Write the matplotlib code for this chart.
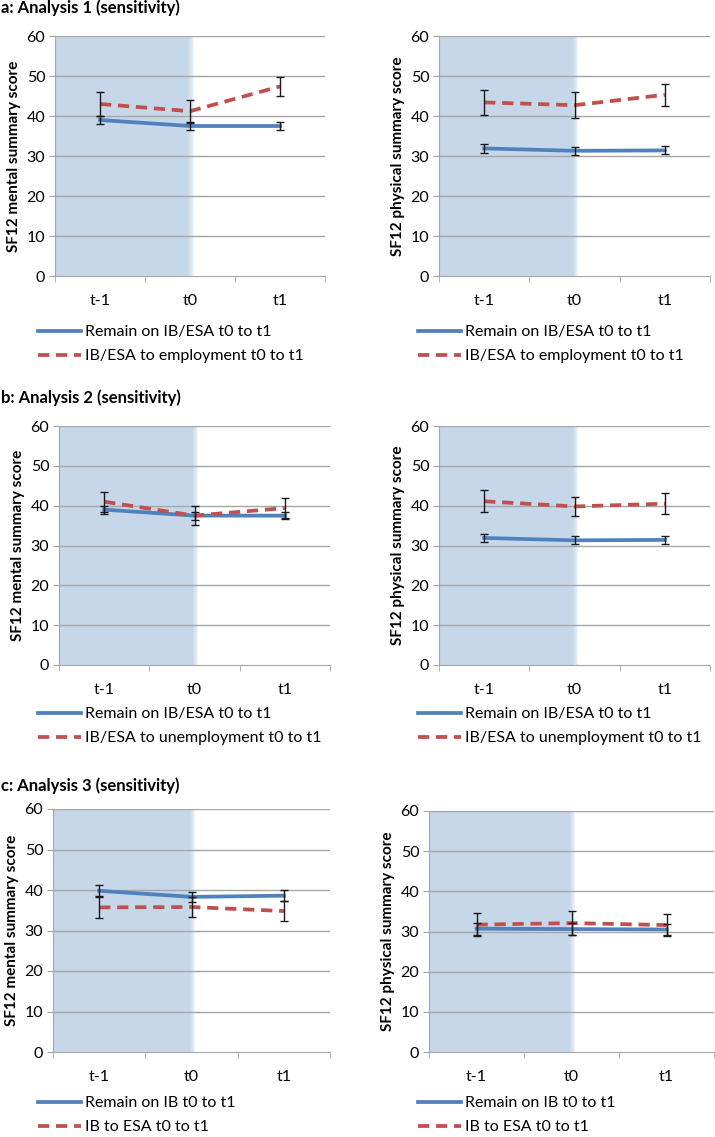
import matplotlib.pyplot as plt

# --- data -------------------------------------------------------------
timepoints = ["t-1", "t0", "t1"]

titles = ["a: Analysis 1 (sensitivity)", "b: Analysis 2 (sensitivity)", "c: Analysis 3 (sensitivity)"]
ylabels = ["SF12 mental summary score", "SF12 physical summary score"]

legend_remain = ["Remain on IB/ESA t0 to t1", "Remain on IB/ESA t0 to t1", "Remain on IB t0 to t1"]
legend_change = ["IB/ESA to employment t0 to t1", "IB/ESA to unemployment t0 to t1", "IB to ESA t0 to t1"]

# Analysis 1
a_mental_remain = [39.0, 37.5, 37.5]
a_mental_remain_err = [1.0, 1.0, 1.0]
a_mental_change = [43.0, 41.2, 47.4]
a_mental_change_err = [3.1, 2.9, 2.3]
a_phys_remain = [31.9, 31.3, 31.4]
a_phys_remain_err = [1.1, 1.0, 1.0]
a_phys_change = [43.4, 42.7, 45.3]
a_phys_change_err = [3.1, 3.2, 2.7]

# Analysis 2
b_mental_remain = [39.0, 37.5, 37.5]
b_mental_remain_err = [1.0, 1.0, 0.9]
b_mental_change = [41.0, 37.5, 39.4]
b_mental_change_err = [2.5, 2.4, 2.5]
b_phys_remain = [31.9, 31.3, 31.4]
b_phys_remain_err = [1.1, 1.0, 1.0]
b_phys_change = [41.1, 39.8, 40.5]
b_phys_change_err = [2.8, 2.5, 2.6]

# Analysis 3
c_mental_remain = [39.8, 38.3, 38.6]
c_mental_remain_err = [1.4, 1.3, 1.3]
c_mental_change = [35.7, 35.8, 34.8]
c_mental_change_err = [2.5, 2.4, 2.4]
c_phys_remain = [30.7, 30.6, 30.5]
c_phys_remain_err = [1.5, 1.4, 1.4]
c_phys_change = [31.7, 32.1, 31.6]
c_phys_change_err = [2.9, 2.9, 2.7]

panels = [
    [(a_mental_remain, a_mental_remain_err, a_mental_change, a_mental_change_err),
     (a_phys_remain, a_phys_remain_err, a_phys_change, a_phys_change_err)],
    [(b_mental_remain, b_mental_remain_err, b_mental_change, b_mental_change_err),
     (b_phys_remain, b_phys_remain_err, b_phys_change, b_phys_change_err)],
    [(c_mental_remain, c_mental_remain_err, c_mental_change, c_mental_change_err),
     (c_phys_remain, c_phys_remain_err, c_phys_change, c_phys_change_err)],
]

# --- layout (pixels: left, top, right, bottom) ----------------------------
W, H = 715, 1137
boxes = [
    [(55, 36, 325, 276), (439, 36, 710, 276)],
    [(59, 426, 330, 665), (439, 426, 710, 665)],
    [(53, 809, 330, 1052), (429, 811, 714, 1052)],
]
title_y = [8, 398, 786]
legend_top = [325, 707, 1096]
legend_x = [38, 418]

plt.rcParams['font.family'] = ['Lato', 'DejaVu Sans']

blue = "#4f81bd"
red = "#c0504d"
shade = "#c6d7ea"
grid = "#a6a6a6"

fig = plt.figure(figsize=(W / 100, H / 100), dpi=100)

for r in range(3):
    fig.text(1 / W, 1 - title_y[r] / H, titles[r], fontsize=12, fontweight='bold',
             ha='left', va='center')
    for c in range(2):
        l, t, rr, b = boxes[r][c]
        ax = fig.add_axes([l / W, 1 - b / H, (rr - l) / W, (b - t) / H])
        remain, remain_err, change, change_err = panels[r][c]
        x = list(range(len(timepoints)))

        # shaded "before" region with soft right edge (overlapping strips, no gaps)
        ax.axvspan(-0.5, 0.98, color=shade, lw=0, zorder=0)
        steps = 6
        for i in range(steps):
            ax.axvspan(0.97, 0.98 + (i + 1) * 0.01, color=shade,
                       alpha=0.25, lw=0, zorder=0)

        for yv in range(10, 61, 10):
            ax.axhline(yv, color=grid, lw=1, zorder=1)

        ax.plot(x, remain, color=blue, lw=2.7, zorder=3, label=legend_remain[r])
        ax.plot(x, change, color=red, lw=2.7, ls=(0, (3.0, 1.8)), zorder=3,
                label=legend_change[r])
        ax.errorbar(x, remain, yerr=remain_err, fmt='none', ecolor='#1a1a1a',
                    elinewidth=1, capsize=3, capthick=1, zorder=4)
        ax.errorbar(x, change, yerr=change_err, fmt='none', ecolor='#1a1a1a',
                    elinewidth=1, capsize=3, capthick=1, zorder=4)

        ax.set_xlim(-0.5, 2.5)
        ax.set_ylim(0, 60)
        ax.set_yticks(range(0, 61, 10))
        ax.set_xticks(x)
        ax.set_xticklabels(timepoints)
        ax.set_xticks([-0.5, 0.5, 1.5, 2.5], minor=True)
        ax.tick_params(axis='x', which='major', length=0, pad=13, labelsize=11.5)
        ax.tick_params(axis='x', which='minor', length=4, color=grid, direction='out')
        ax.tick_params(axis='y', length=4, color=grid, labelsize=11.5, pad=3)
        for s in ['top', 'right']:
            ax.spines[s].set_visible(False)
        for s in ['left', 'bottom']:
            ax.spines[s].set_color(grid)
        ax.set_ylabel(ylabels[c], fontsize=11, fontweight='bold', labelpad=4)

        ax.legend(loc='upper left', bbox_to_anchor=(legend_x[c] / W, 1 - legend_top[r] / H),
                  bbox_transform=fig.transFigure, frameon=False, fontsize=11.5,
                  handlelength=2.7, handletextpad=0.25, labelspacing=0.62,
                  borderpad=0, borderaxespad=0)

fig.savefig("out.png", dpi=100)
